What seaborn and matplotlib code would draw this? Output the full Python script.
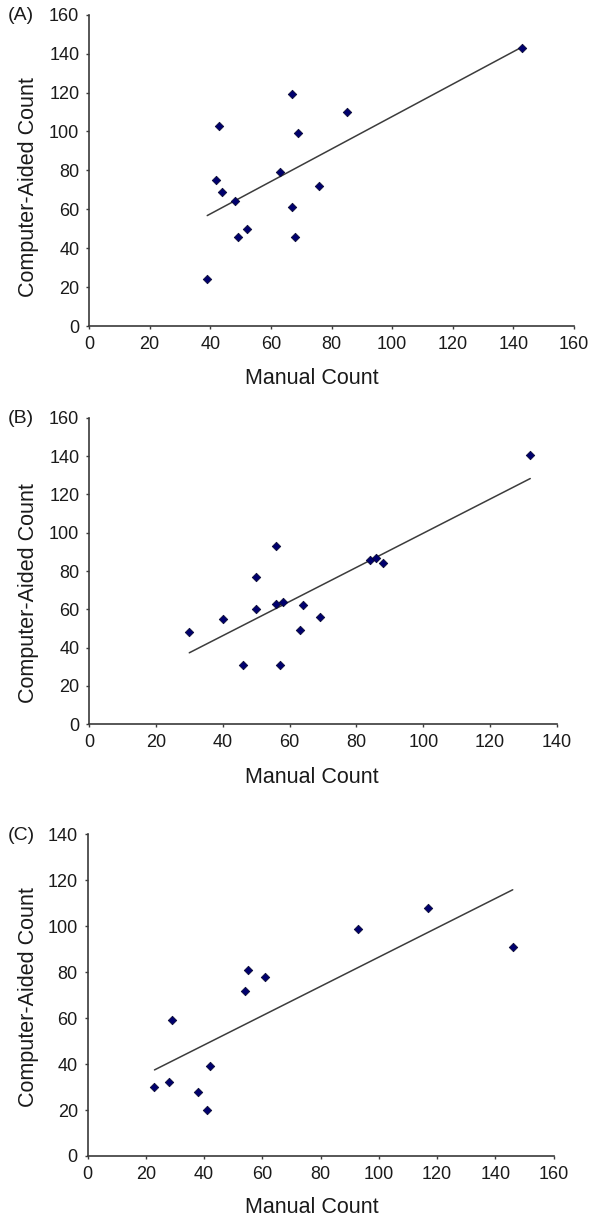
import numpy as np
import pandas as pd
import matplotlib
matplotlib.use("Agg")
import matplotlib.pyplot as plt
import seaborn as sns

# ---------------- data ----------------
panel_labels = ["(A)", "(B)", "(C)"]

manual_a = [143, 67, 85, 43, 69, 63, 42, 44, 76, 48, 67, 52, 49, 68, 39]
computer_a = [143, 119, 110, 103, 99, 79, 75, 69, 72, 64, 61, 50, 46, 46, 24]

manual_b = [132, 56, 50, 84, 86, 88, 56, 58, 50, 64, 40, 69, 30, 63, 46, 57]
computer_b = [140.5, 93, 77, 86, 87, 84, 63, 64, 60, 62, 55, 56, 48, 49, 31, 31]

manual_c = [117, 93, 146, 55, 61, 54, 29, 42, 23, 28, 38, 41]
computer_c = [108, 99, 91, 81, 78, 72, 59, 39, 30, 32, 28, 20]

xlims = [160, 140, 160]
ylims = [160, 160, 140]
x_label = "Manual Count"
y_label = "Computer-Aided Count"

# ---------------- style ----------------
sns.set_style("ticks")
plt.rcParams["font.family"] = ["Liberation Sans", "DejaVu Sans"]
text_color = "#1a1a1a"
axis_color = "#3a3a3a"

W, H = 590, 1217
fig = plt.figure(figsize=(W / 100, H / 100), dpi=100)

# axes boxes in pixels: left, right, top, bottom
boxes = [
    (89.0, 574.0, 14.7, 326.0),
    (89.0, 557.0, 417.7, 724.3),
    (87.5, 553.5, 834.3, 1156.0),
]
ylab_center = [187.5, 592.7, 996.7]
xlab_center = [311.5, 312.0, 312.0]
xlab_top = [368.0, 767.0, 1197.0]

datasets = [(manual_a, computer_a), (manual_b, computer_b), (manual_c, computer_c)]

for i, ((mx, cy), (l, r, t, b)) in enumerate(zip(datasets, boxes)):
    ax = fig.add_axes([l / W, 1 - b / H, (r - l) / W, (b - t) / H])
    df = pd.DataFrame({"manual": mx, "computer": cy})
    sns.regplot(
        data=df, x="manual", y="computer", ax=ax, ci=None, marker="D",
        scatter_kws=dict(s=19, color="#00006e", edgecolors="#05052a",
                         linewidths=0.5, alpha=1.0, zorder=3, clip_on=False),
        line_kws=dict(color="#3c3c3c", lw=1.1, zorder=2),
    )
    ax.set_xlim(0, xlims[i])
    ax.set_ylim(0, ylims[i])
    ax.set_xticks(np.arange(0, xlims[i] + 1, 20))
    ax.set_yticks(np.arange(0, ylims[i] + 1, 20))
    sns.despine(ax=ax)
    for s in ("left", "bottom"):
        ax.spines[s].set_color(axis_color)
        ax.spines[s].set_linewidth(1.2)
    ax.tick_params(axis="both", direction="out", length=2.5, width=1.0,
                   color=axis_color, labelsize=13, labelcolor=text_color, pad=4.5)
    ax.set_xlabel(x_label, fontsize=15.5, color=text_color)
    ax.set_ylabel(y_label, fontsize=15.5, color=text_color)
    wpx, hpx = r - l, b - t
    ax.yaxis.set_label_coords((39 - l) / wpx, (b - ylab_center[i]) / hpx)
    ax.xaxis.set_label_coords((xlab_center[i] - l) / wpx, -(xlab_top[i] - b) / hpx)
    fig.text(21 / W, 1 - (t + 1) / H, panel_labels[i], fontsize=14,
             color=text_color, ha="center", va="center")

fig.savefig("out.png", dpi=100)
